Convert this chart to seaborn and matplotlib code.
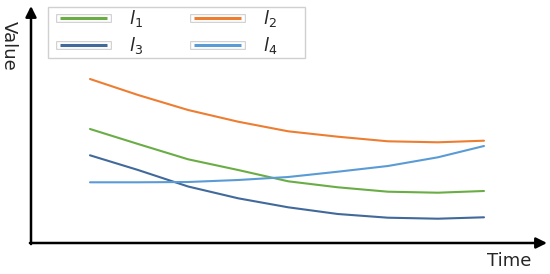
import numpy as np
import pandas as pd
import seaborn as sns
import matplotlib
matplotlib.use("Agg")
import matplotlib.pyplot as plt
import matplotlib.patheffects as pe
from matplotlib.lines import Line2D
from matplotlib.patches import Rectangle

# ---- data (arbitrary units) ----
time = [0, 1.22, 2.49, 3.76, 5.03, 6.29, 7.56, 8.83, 10]
l1 = [114, 99, 83.7, 73, 61.7, 55.7, 51.3, 50.3, 52]
l2 = [164, 148, 133, 121.3, 111.7, 106.3, 101.7, 100.7, 102.3]
l3 = [87.7, 73, 56.5, 44.7, 35.7, 29, 25.3, 24.3, 25.7]
l4 = [60.7, 60.7, 61, 63, 66, 71.3, 77, 85.7, 97]
series_names = ["l1", "l2", "l3", "l4"]
labels = [r"$\mathit{l}_1$", r"$\mathit{l}_2$", r"$\mathit{l}_3$", r"$\mathit{l}_4$"]
colors = ["#6aad45", "#ed7d31", "#41699a", "#5b9bd5"]

df = pd.concat([
    pd.DataFrame({"Time": time, "Value": v, "series": n})
    for n, v in zip(series_names, [l1, l2, l3, l4])
])

sns.set_theme(style="white")
plt.rcParams["font.family"] = ["DejaVu Sans"]
plt.rcParams["mathtext.fontset"] = "dejavusans"

W, H = 550, 274
fig = plt.figure(figsize=(W / 100, H / 100), dpi=100)
ax = fig.add_axes([0, 0, 1, 1])
sns.lineplot(data=df, x="Time", y="Value", hue="series",
             palette=dict(zip(series_names, colors)), legend=False,
             linewidth=1.5, ax=ax)
for ln in ax.get_lines():
    ln.set_solid_joinstyle("round")

# pixel-like layout: x pixel 90 -> t=0, 484 -> t=10 ; y baseline at pixel 243
ax.set_xlim(-90 / 39.4, (W - 90) / 39.4)
ax.set_ylim(-31, 243)
ax.axis("off")

# axes with arrows
y0 = 1 - 243 / H
x0 = 31 / W
ax.annotate("", xy=(547 / W, y0), xytext=(x0 - 0.002, y0),
            xycoords="figure fraction", textcoords="figure fraction",
            arrowprops=dict(arrowstyle="-|>", lw=1.8, color="black",
                            mutation_scale=16, shrinkA=0, shrinkB=0))
ax.annotate("", xy=(x0, 1 - 6 / H), xytext=(x0, y0 - 0.004),
            xycoords="figure fraction", textcoords="figure fraction",
            arrowprops=dict(arrowstyle="-|>", lw=1.8, color="black",
                            mutation_scale=16, shrinkA=0, shrinkB=0))

fig.text(509 / W, 1 - 261 / H, "Time", ha="center", va="center", fontsize=13)
fig.text(9 / W, 1 - 46 / H, "Value", ha="center", va="center",
         fontsize=13, rotation=270)

# legend frame
fig.patches.append(Rectangle((48 / W, 1 - 58 / H), (305 - 48) / W, (58 - 7) / H,
                             transform=fig.transFigure, facecolor="white",
                             edgecolor="#d0d0d0", lw=1.0, zorder=0))

# legend with boxed handles
handles = []
for c in colors:
    h = Line2D([0], [0], color=c, lw=2.2, solid_capstyle="butt",
               path_effects=[pe.Stroke(linewidth=6.2, foreground="#c8c8c8",
                                       capstyle="projecting"),
                             pe.Stroke(linewidth=4.8, foreground="white",
                                       capstyle="projecting"),
                             pe.Normal()])
    handles.append(h)
order = [0, 2, 1, 3]
leg = fig.legend([handles[i] for i in order], [labels[i] for i in order],
                 ncol=2, loc="center left",
                 bbox_to_anchor=(60 / W, 1 - 32 / H),
                 bbox_transform=fig.transFigure, borderaxespad=0,
                 fontsize=13, handlelength=2.6, handletextpad=1.2,
                 columnspacing=2.85, labelspacing=0.33, borderpad=0,
                 frameon=False)
for t in leg.get_texts():
    t.set_color("#262626")

fig.savefig("out.png", dpi=100)
